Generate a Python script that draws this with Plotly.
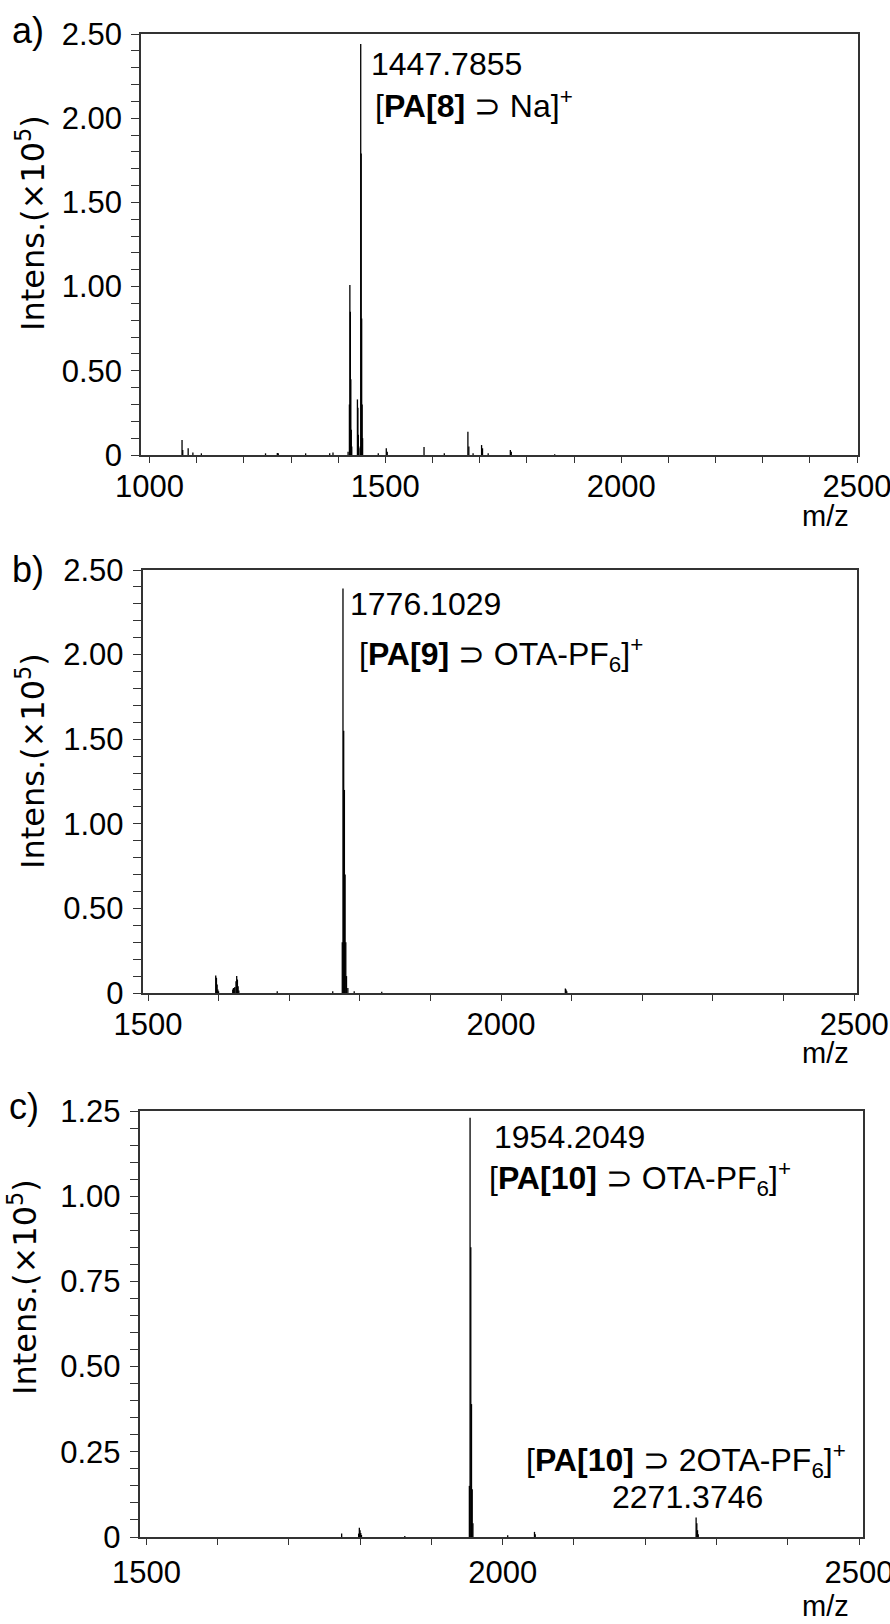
import plotly.graph_objects as go

# ---------------- data (intensity in units of 1e5) ----------------
# Panel a
a_mz = [1069, 1070.5, 1082, 1092, 1110, 1246, 1271, 1273, 1331, 1382, 1389, 1421,
        1423.8, 1424.8, 1425.8, 1426.8, 1427.8, 1428.8,
        1440.8, 1441.8, 1442.8, 1443.8,
        1446.8, 1447.8, 1448.8, 1449.8, 1450.8, 1451.8,
        1485, 1502, 1504, 1582, 1625, 1675, 1677, 1686, 1704, 1706, 1718, 1765, 1767, 1859]
a_int = [0.089, 0.03, 0.04, 0.015, 0.01, 0.01, 0.012, 0.01, 0.01, 0.01, 0.015, 0.02,
         0.30, 1.01, 0.85, 0.45, 0.15, 0.05,
         0.33, 0.28, 0.12, 0.04,
         0.05, 2.44, 1.79, 0.81, 0.30, 0.10,
         0.01, 0.04, 0.02, 0.047, 0.01, 0.138, 0.05, 0.01, 0.059, 0.04, 0.01, 0.03, 0.02, 0.005]

# Panel b
b_mz = [1595.9, 1596.9, 1597.9, 1598.9, 1599.9,
        1620, 1621, 1622, 1623, 1624.6, 1625.6, 1626.6, 1627.6, 1628.6,
        1683, 1761.6,
        1775.1, 1776.1, 1777.1, 1778.1, 1779.1, 1780.1, 1781.1, 1783,
        1792, 1831, 2091, 2092, 2093]
b_int = [0.104, 0.09, 0.05, 0.02, 0.01,
         0.02, 0.03, 0.03, 0.035, 0.07, 0.10, 0.08, 0.04, 0.015,
         0.01, 0.01,
         0.30, 2.39, 1.55, 1.20, 0.70, 0.30, 0.10, 0.03,
         0.01, 0.008, 0.027, 0.02, 0.01]

# Panel c
c_mz = [1774, 1797.8, 1798.8, 1799.8, 1800.8, 1801.8, 1862.6,
        1953.2, 1954.2, 1955.2, 1956.2, 1957.2, 1958.2,
        2007, 2044.6, 2045.6, 2271.4, 2272.4, 2273.4, 2274.4]
c_int = [0.01, 0.01, 0.027, 0.02, 0.012, 0.006, 0.003,
         0.15, 1.23, 0.85, 0.39, 0.14, 0.04,
         0.005, 0.015, 0.008, 0.057, 0.04, 0.02, 0.008]

# tick labels
ab_ytickvals = [0, 0.5, 1.0, 1.5, 2.0, 2.5]
ab_yticktext = ['0', '0.50', '1.00', '1.50', '2.00', '2.50']
c_ytickvals = [0, 0.25, 0.5, 0.75, 1.0, 1.25]
c_yticktext = ['0', '0.25', '0.50', '0.75', '1.00', '1.25']
a_xtickvals = [1000, 1500, 2000, 2500]
bc_xtickvals = [1500, 2000, 2500]

W, H = 890, 1624
FONT = "Liberation Sans, Arial, sans-serif"
LINEC = "#333333"


def sticks(mz, inten):
    xs, ys = [], []
    for m, h in zip(mz, inten):
        xs += [m, m, None]
        ys += [0, h, None]
    return xs, ys


def px(x):
    return x / W


def py(y):
    return 1 - y / H


fig = go.Figure()
for (mz, it, xa, ya) in [(a_mz, a_int, 'x', 'y'), (b_mz, b_int, 'x2', 'y2'), (c_mz, c_int, 'x3', 'y3')]:
    xs, ys = sticks(mz, it)
    fig.add_trace(go.Scatter(x=xs, y=ys, mode='lines', line=dict(color='black', width=1.3),
                             xaxis=xa, yaxis=ya, hoverinfo='skip', showlegend=False))


def xax(dom, rng, tickvals, standoff, anchor):
    return dict(domain=[px(dom[0]), px(dom[1])], range=rng, anchor=anchor, automargin=False,
                showline=True, linecolor=LINEC, linewidth=1.5, mirror=True,
                showgrid=False, zeroline=False,
                tickmode='array', tickvals=tickvals, ticktext=[str(v) for v in tickvals],
                ticks='outside', ticklen=6, tickwidth=1.2, tickcolor=LINEC,
                minor=dict(tickmode='linear', tick0=1000, dtick=100, ticks='outside',
                           ticklen=6, tickwidth=1.2, tickcolor=LINEC, showgrid=False),
                tickfont=dict(family=FONT, size=31, color='black'),
                ticklabelstandoff=standoff, ticklabeloverflow='allow')


def yax(dom, rng, tickvals, ticktext, mdt, anchor):
    return dict(domain=[py(dom[1]), py(dom[0])], range=rng, anchor=anchor, automargin=False,
                showline=True, linecolor=LINEC, linewidth=1.5, mirror=True,
                showgrid=False, zeroline=False,
                tickmode='array', tickvals=tickvals, ticktext=ticktext,
                ticks='outside', ticklen=8, tickwidth=1.2, tickcolor=LINEC,
                minor=dict(tickmode='linear', tick0=0, dtick=mdt, ticks='outside',
                           ticklen=8, tickwidth=1.2, tickcolor=LINEC, showgrid=False),
                tickfont=dict(family=FONT, size=31, color='black'),
                ticklabelstandoff=3, ticklabeloverflow='allow')


fig.update_layout(
    template='none',
    width=W, height=H, margin=dict(l=0, r=0, t=0, b=0, pad=0),
    paper_bgcolor='white', plot_bgcolor='white', showlegend=False,
    xaxis=xax((141, 858), [982, 2502], a_xtickvals, -3, 'y'),
    yaxis=yax((34, 455), [0, 2.5], ab_ytickvals, ab_yticktext, 0.1, 'x'),
    xaxis2=xax((142.5, 857), [1492.2, 2504], bc_xtickvals, -3, 'y2'),
    yaxis2=yax((570, 993), [0, 2.5], ab_ytickvals, ab_yticktext, 0.1, 'x2'),
    xaxis3=xax((139.5, 863), [1490.3, 2505.6], bc_xtickvals, 1, 'y3'),
    yaxis3=yax((1111, 1537), [0, 1.25], c_ytickvals, c_yticktext, 0.05, 'x3'),
)

ann = []


def add(text, x, y, xanchor='left', size=32, angle=0, family=FONT):
    ann.append(dict(text=text, x=px(x), y=py(y), xref='paper', yref='paper',
                    xanchor=xanchor, yanchor='middle', showarrow=False, textangle=angle,
                    font=dict(family=family, size=size, color='black')))


TITLE = "Intens.(×10<sup>5</sup>)"
TF = "DejaVu Sans, sans-serif"
# panel a
add("a)", 10, 31, size=36)
add("1447.7855", 369, 64)
add("[<b>PA[8]</b> ⊃ Na]<sup>+</sup>", 373, 104)
add("m/z", 851, 516, xanchor='right', size=29)
add(TITLE, 31, 223, xanchor='center', size=32, angle=-90, family=TF)
# panel b
add("b)", 10, 570, size=36)
add("1776.1029", 348, 604)
add("[<b>PA[9]</b> ⊃ OTA-PF<sub>6</sub>]<sup>+</sup>", 357, 655)
add("m/z", 851, 1053, xanchor='right', size=29)
add(TITLE, 31, 761, xanchor='center', size=32, angle=-90, family=TF)
# panel c
add("c)", 7, 1106, size=36)
add("1954.2049", 492, 1137)
add("[<b>PA[10]</b> ⊃ OTA-PF<sub>6</sub>]<sup>+</sup>", 487, 1178)
add("[<b>PA[10]</b> ⊃ 2OTA-PF<sub>6</sub>]<sup>+</sup>", 524, 1460)
add("2271.3746", 610, 1497)
add("m/z", 851, 1606, xanchor='right', size=29)
add(TITLE, 23, 1287, xanchor='center', size=32, angle=-90, family=TF)

fig.update_layout(annotations=ann)
fig.write_html("out.html")
